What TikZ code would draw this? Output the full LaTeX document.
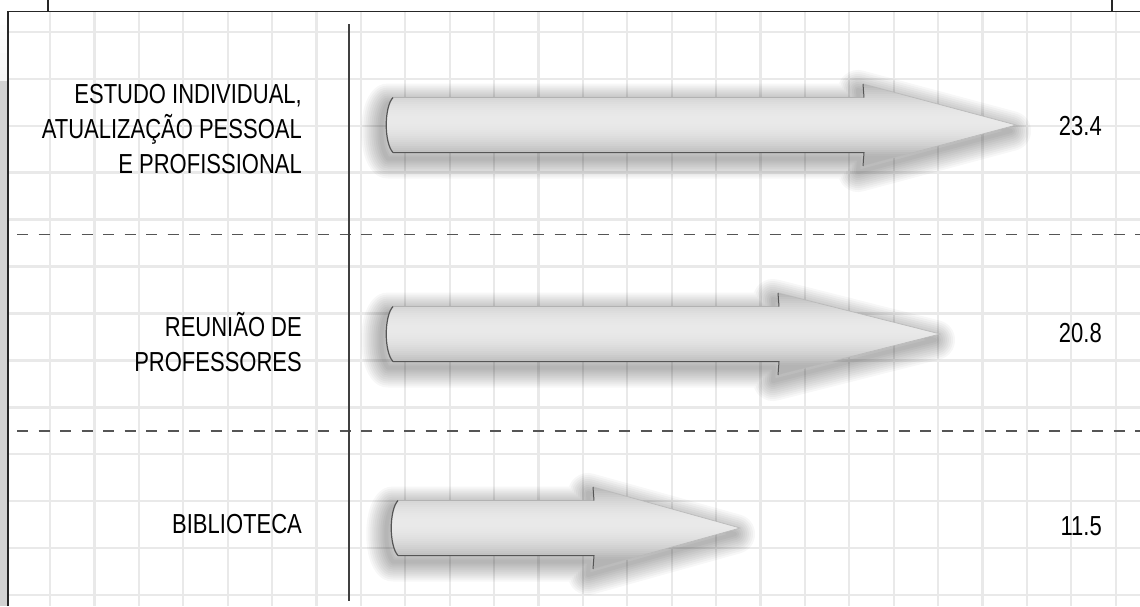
\documentclass[tikz,border=0pt]{standalone}
\usepackage{fontspec}
\setmainfont[FakeStretch=0.8]{Liberation Sans}
\definecolor{gridc}{HTML}{E9E9E9}
\definecolor{dashc}{HTML}{555555}
\definecolor{arrdark}{HTML}{B4B4B4}
\definecolor{arrmid}{HTML}{E9E9E9}
\definecolor{edgec}{HTML}{555555}
\newcommand{\lbl}{\fontsize{27.5}{35}\selectfont}

% #1 centre y, #2 tail x, #3 shoulder x, #4 tip x
\newcommand{\arrpath}[4]{%
  (#2,{#1-27.5}) -- (#3,{#1-27.5}) -- ({#3-1},{#1-41}) -- (#4,#1) -- ({#3-1},{#1+41})
  -- (#3,{#1+27.5}) -- (#2,{#1+27.5}) .. controls ({#2-9},{#1+18}) and ({#2-9},{#1-18}) .. (#2,{#1-27.5}) -- cycle}
\newcommand{\bararrow}[4]{%
  \foreach \w in {40,36,...,4}
    \path[draw=black,draw opacity=0.03,line width=\w,line join=round,
          shift={(-5,6)}] \arrpath{#1}{#2}{#3}{#4};
  \begin{scope}
    \clip \arrpath{#1}{#2}{#3}{#4};
    \foreach \d in {-42,-40,...,42}{
      \pgfmathsetmacro\pct{max(0,100*(1-((\d+5)/36)*((\d+5)/36)))}
      \fill[arrmid!\pct!arrdark] ({#2-10},{#1+\d-1.2}) rectangle (#4,{#1+\d+1.2});
    }
  \end{scope}
  \draw[gray!60,line width=0.5] (#3,{#1-27.5}) -- (#2,{#1-27.5});
  \draw[gray!55,line width=0.6] ({#3-1},{#1-41}) -- (#4,#1) -- ({#3-1},{#1+41});
  \draw[edgec,line width=1.2] (#2,{#1+27.5}) .. controls ({#2-9},{#1+18}) and ({#2-9},{#1-18}) .. (#2,{#1-27.5});
  \draw[edgec,line width=1] (#2,{#1+27.5}) -- (#3,{#1+27.5}) -- ({#3-1},{#1+41});
  \draw[edgec,line width=1] (#3,{#1-27.5}) -- ({#3-1},{#1-41});
}

\begin{document}
\begin{tikzpicture}[x=1pt,y=-1pt]
  \useasboundingbox (0,0) rectangle (1140,606);
  \fill[white] (0,0) rectangle (1140,606);
  % grid
  \foreach \i in {0,...,24}
    \draw[gridc,line width=2.2] ({50+44.4*\i},11) -- ({50+44.4*\i},606);
  \foreach \j in {0,...,12}
    \draw[gridc,line width=2.6] (8,{32+46.9*\j}) -- (1140,{32+46.9*\j});
  % frame
  \foreach \k in {0,...,9}
    \fill[gray!\k!white] (0,{11+\k*7}) rectangle (7,{18+\k*7});
  \fill[gray!35] (0,81) rectangle (7,606);
  \draw[black!85,line width=1.4] (8,606) -- (8,11.5) -- (1140,11.5);
  \draw[black!85,line width=1.4] (48,0) -- (48,11.5);
  \draw[black!85,line width=1.4] (1112,0) -- (1112,11.5);
  % separators
  \draw[dashc,line width=1.3,dash pattern=on 11pt off 10.5pt] (17,234.5) -- (1140,234.5);
  \draw[dashc,line width=1.3,dash pattern=on 11pt off 10.5pt] (17,431) -- (1140,431);
  \draw[black!75,line width=1.4] (349,24) -- (349,601);
  % bars
  \bararrow{125}{393}{864}{1016}
  \bararrow{334}{393}{779}{940}
  \bararrow{528}{398}{594}{740}
  % labels
  \node[anchor=base east,align=right,inner sep=0,font=\lbl] (estudo) at (302,173)
    {ESTUDO INDIVIDUAL,\\ATUALIZAÇÃO PESSOAL\\E PROFISSIONAL};
  \node[anchor=base east,align=right,inner sep=0,font=\lbl] (reuniao) at (302,371)
    {REUNIÃO DE\\PROFESSORES};
  \node[anchor=base east,inner sep=0,font=\lbl] (biblio) at (302,533) {BIBLIOTECA};
  \node[anchor=base east,inner sep=0,font=\lbl] (v1) at (1102,135) {23.4};
  \node[anchor=base east,inner sep=0,font=\lbl] (v2) at (1102,342) {20.8};
  \node[anchor=base east,inner sep=0,font=\lbl] (v3) at (1102,535) {11.5};
\end{tikzpicture}
\end{document}
